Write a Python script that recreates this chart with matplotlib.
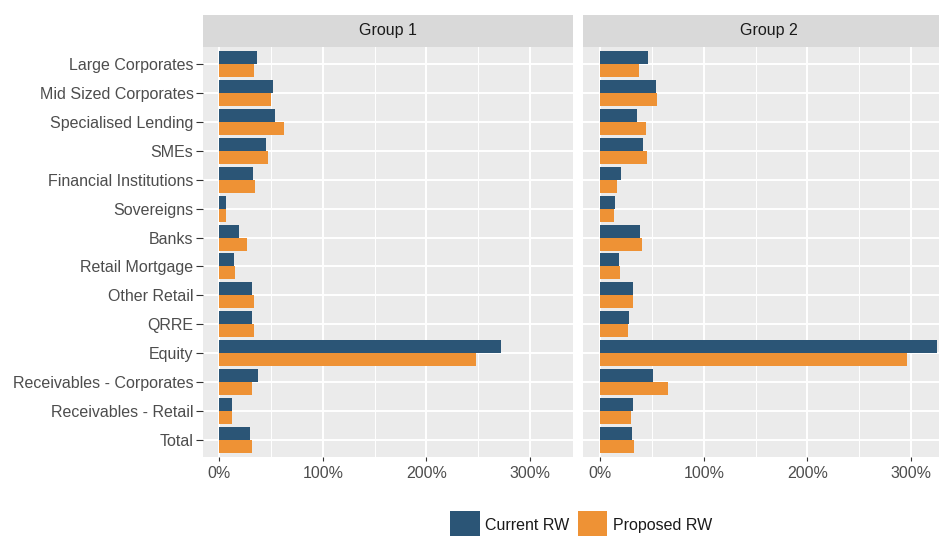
import numpy as np
import matplotlib
matplotlib.use("Agg")
import matplotlib.pyplot as plt
from matplotlib.patches import Patch

plt.rcParams['font.family'] = ['Liberation Sans', 'DejaVu Sans']

# data (risk weights in %)
categories = ["Large Corporates", "Mid Sized Corporates", "Specialised Lending", "SMEs",
              "Financial Institutions", "Sovereigns", "Banks", "Retail Mortgage",
              "Other Retail", "QRRE", "Equity", "Receivables - Corporates",
              "Receivables - Retail", "Total"]
groups = ["Group 1", "Group 2"]

g1_current = [36, 51.5, 53.4, 44.7, 32.2, 6.8, 19.3, 14.5, 31.2, 31.5, 272.3, 37.6, 12.5, 29.6]
g1_proposed = [33.5, 50, 62.7, 46.7, 34.1, 6.5, 27, 15.1, 33.5, 33.2, 247.8, 31.8, 12.2, 31.2]
g2_current = [45.8, 53.9, 35.8, 41.3, 19.7, 14.2, 38.7, 18.4, 31.9, 27.8, 325, 50.7, 31.3, 31]
g2_proposed = [37.1, 54.5, 43.9, 44.8, 15.9, 13.2, 40, 19.4, 31.6, 26.8, 296.5, 65.8, 29.7, 32.9]

series_names = ["Current RW", "Proposed RW"]
xticks = [0, 100, 200, 300]
xtick_labels = ["0%", "100%", "200%", "300%"]

blue = "#2B5576"
orange = "#EE9235"
panel_bg = "#EBEBEB"
strip_bg = "#D9D9D9"
txt = "#4D4D4D"

fig = plt.figure(figsize=(9.39, 5.36), dpi=100)

# shared x range, ggplot-style 5% expansion
xmax = max(max(g1_current), max(g1_proposed), max(g2_current), max(g2_proposed))
pad = 0.05 * xmax
ypos = np.arange(len(categories))

bottom = 0.1466
height = 0.7665
width = 0.394
lefts = [0.2157, 0.6214]
data = [(g1_current, g1_proposed), (g2_current, g2_proposed)]

for i, (cur, prop) in enumerate(data):
    ax = fig.add_axes([lefts[i], bottom, width, height])
    ax.set_facecolor(panel_bg)
    ax.barh(ypos - 0.225, cur, height=0.45, color=blue, zorder=3)
    ax.barh(ypos + 0.225, prop, height=0.45, color=orange, zorder=3)
    ax.set_xlim(-pad, xmax + pad)
    ax.set_ylim(len(categories) - 0.4, -0.6)

    ax.set_xticks(xticks)
    ax.set_xticklabels(xtick_labels)
    ax.set_xticks([50, 150, 250], minor=True)
    ax.set_yticks(ypos)

    ax.grid(True, which='major', color='white', linewidth=1.4, zorder=0)
    ax.grid(True, which='minor', axis='x', color='white', linewidth=0.7, zorder=0)
    ax.set_axisbelow(True)
    for s in ax.spines.values():
        s.set_visible(False)
    ax.tick_params(axis='both', which='major', length=3, width=0.8, color='#333333',
                   labelcolor=txt, labelsize=11.5)
    ax.tick_params(axis='x', which='major', pad=3)
    ax.tick_params(which='minor', length=0)
    if i == 0:
        ax.set_yticklabels(categories)
        ax.tick_params(axis='y', which='major', length=5, pad=1.5)
    else:
        ax.tick_params(axis='y', which='major', left=False, labelleft=False)

    # facet strip
    sax = fig.add_axes([lefts[i], bottom + height, width, 0.059])
    sax.set_facecolor(strip_bg)
    sax.set_xticks([])
    sax.set_yticks([])
    for s in sax.spines.values():
        s.set_visible(False)
    sax.text(0.5, 0.5, groups[i], ha='center', va='center', fontsize=11.5,
             color='#1A1A1A', transform=sax.transAxes)

handles = [Patch(facecolor=blue), Patch(facecolor=orange)]
fig.legend(handles, series_names, loc='upper center', bbox_to_anchor=(0.619, 0.0466),
           ncol=2, frameon=False, fontsize=11.5, handlelength=1.82, handleheight=2.42,
           handletextpad=0.375, columnspacing=0.5, borderpad=0, borderaxespad=0,
           labelcolor='#1A1A1A')

fig.savefig("out.png", dpi=100)
